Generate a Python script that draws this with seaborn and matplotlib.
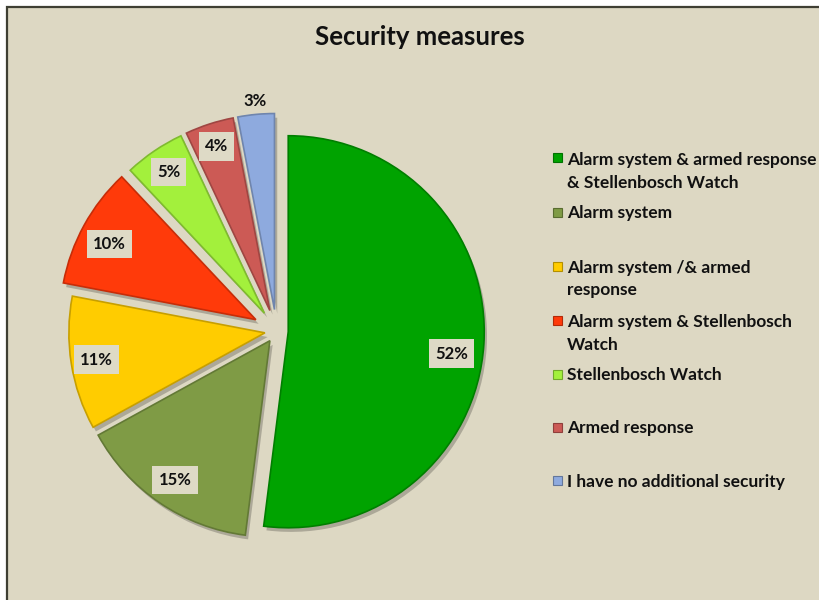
import matplotlib
matplotlib.use("Agg")
import numpy as np
import matplotlib.pyplot as plt
import matplotlib.patheffects as pe
from matplotlib.patches import Rectangle
from matplotlib.colors import to_rgb
import seaborn as sns

# ---- data -----------------------------------------------------------------
categories = [
    "Alarm system & armed response\n& Stellenbosch Watch",
    "Alarm system",
    "Alarm system /& armed\nresponse",
    "Alarm system & Stellenbosch\nWatch",
    "Stellenbosch Watch",
    "Armed response",
    "I have no additional security",
]
shares = [52, 15, 11, 10, 5, 4, 3]
title = "Security measures"

# ---- style ----------------------------------------------------------------
slice_colors = ["#00a300", "#7f9b45", "#ffcc00", "#ff3a0a", "#a3f03c", "#cc5a55", "#8eaade"]
explode = [0.06, 0.06, 0.06, 0.12, 0.11, 0.11, 0.11]
label_dist = [0.84, 0.86, 0.87, 0.84, 0.87, 0.88, 1.07]
label_turn = [-4.0, 0.0, 0.0, 1.5, 0.0, 0.0, 0.0]  # degrees off the wedge bisector
bg = "#ddd8c3"
frame_edge = "#3f3f33"

sns.set_theme(style="white")
plt.rcParams["font.family"] = ["Lato", "DejaVu Sans"]

W, H = 819, 600
fig = plt.figure(figsize=(W / 100, H / 100), dpi=100, facecolor="white")

# chart area
fig.add_artist(Rectangle((7 / W, -0.05), 1.2, (H - 7) / H + 0.05,
                         transform=fig.transFigure, facecolor=bg,
                         edgecolor=frame_edge, linewidth=1.6, zorder=-10))

# pie axes: centre (276.5, 331) px from top-left, radius 196 px
R = 196.0
cx, cy = 276.5, H - 331.0
L = 1.3
S = 2 * L * R
ax = fig.add_axes([(cx - S / 2) / W, (cy - S / 2) / H, S / W, S / H])
ax.set_facecolor("none")


def shade(c, f):
    r, g, b = to_rgb(c)
    return (r * f, g * f, b * f)


wedges, _ = ax.pie(shares, colors=slice_colors, startangle=90, counterclock=False,
                   explode=explode, radius=1.0,
                   wedgeprops=dict(linewidth=1.2))
for w, c in zip(wedges, slice_colors):
    w.set_edgecolor(shade(c, 0.78))
    w.set_path_effects([pe.SimplePatchShadow(offset=(2, -3), shadow_rgbFace="black", alpha=0.22),
                        pe.Normal()])

for w, v, d, t in zip(wedges, shares, label_dist, label_turn):
    mid = np.deg2rad((w.theta1 + w.theta2) / 2 + t)
    x0, y0 = w.center
    x, y = x0 + d * np.cos(mid), y0 + d * np.sin(mid)
    box = None if d > 1 else dict(boxstyle="square,pad=0.38", facecolor="#dedac6", edgecolor="none")
    ax.text(x, y, f"{v}%", ha="center", va="center", fontsize=12,
            fontweight="bold", color="#111111", bbox=box)

ax.set_xlim(-L, L)
ax.set_ylim(-L, L)
ax.set_aspect("equal")
ax.axis("off")

# title
fig.text(419.5 / W, 1 - 37 / H, title, ha="center", va="center",
         fontsize=18.5, fontweight="bold", color="#111111")

# legend
leg_x_marker, leg_x_text = 557, 567
leg_y = [158, 212, 266, 320, 374, 427, 480]
ms = 9
for cat, c, yy in zip(categories, slice_colors, leg_y):
    fig.add_artist(Rectangle(((leg_x_marker - ms / 2) / W, 1 - (yy + ms / 2) / H), ms / W, ms / H,
                             transform=fig.transFigure, facecolor=c,
                             edgecolor=shade(c, 0.7), linewidth=0.8))
    for j, line in enumerate(cat.split("\n")):
        fig.text(leg_x_text / W, 1 - (yy + 23 * j) / H, line, ha="left",
                 va="center_baseline", fontsize=12.5, fontweight="bold", color="#111111")

fig.savefig("out.png", dpi=100, facecolor=fig.get_facecolor())
